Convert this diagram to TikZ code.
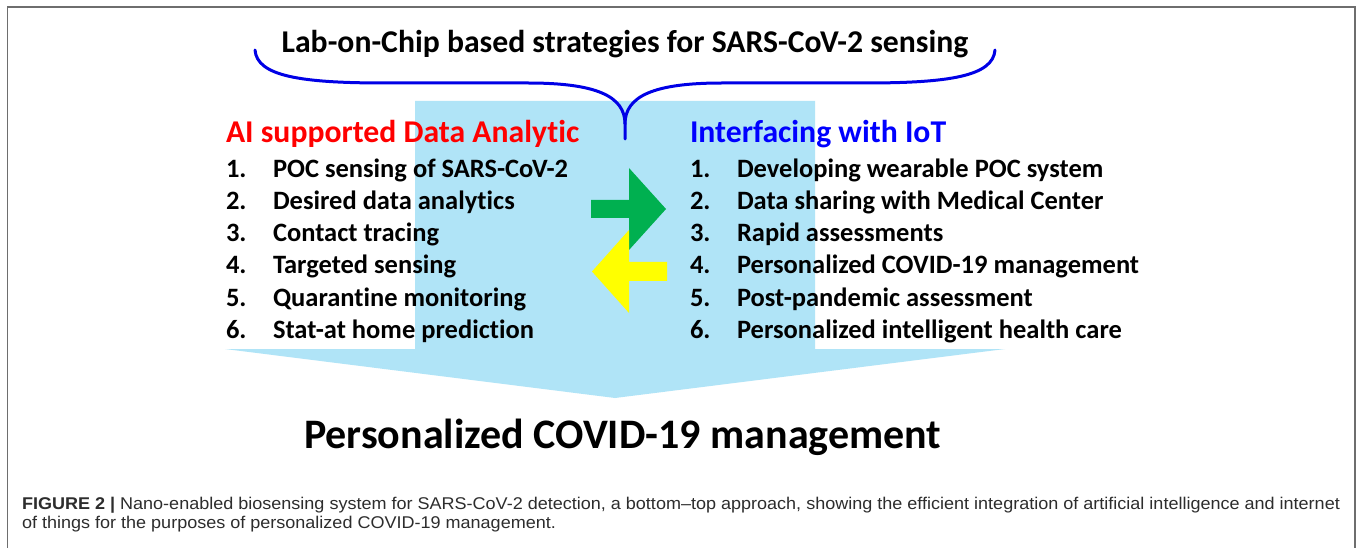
\documentclass[tikz,border=0pt]{standalone}
\usepackage{fontspec}
\setmainfont{Carlito}[Ligatures=NoCommon]
\newfontfamily\capfont{Liberation Sans}
\usepackage{graphicx}
\definecolor{lightbluefill}{RGB}{176,228,247}
\definecolor{arrowgreen}{RGB}{0,176,80}
\definecolor{arrowyellow}{RGB}{255,255,0}
\definecolor{hdred}{RGB}{255,0,0}
\definecolor{hdblue}{RGB}{0,0,255}
\definecolor{bracecol}{RGB}{0,0,230}
\definecolor{framegray}{RGB}{110,110,110}
\definecolor{captext}{RGB}{45,45,45}
\newlength\capwidth
\newcommand\capone{\capfont\fontsize{17}{20}\selectfont\textbf{FIGURE 2 |} Nano-enabled biosensing system for SARS-CoV-2 detection, a bottom–top approach, showing the efficient integration of artificial intelligence and internet}
\newcommand\captwo{\capfont\fontsize{17}{20}\selectfont of things for the purposes of personalized COVID-19 management.}
\tikzset{
  txt/.style={inner sep=0pt, outer sep=0pt, anchor=base west},
  itemnum/.style={txt, font=\fontsize{26.5}{26.5}\selectfont\bfseries},
  itemtxt/.style={txt, font=\fontsize{26.5}{26.5}\selectfont\bfseries},
  header/.style={txt, font=\fontsize{31.7}{31.7}\selectfont\bfseries},
  captxt/.style={txt, text=captext},
}
\begin{document}
\settowidth\capwidth{\capone}%
\pgfmathsetmacro\capsx{1318/\capwidth}%
\begin{tikzpicture}[x=1pt,y=-1pt]
\useasboundingbox (0,0) rectangle (1358,548);
\fill[white] (0,0) rectangle (1358,548);
% frame
\draw[framegray, line width=1.6pt] (7.5,548) -- (7.5,6.8) -- (1355.2,6.8) -- (1355.2,548);
% big light blue arrow
\fill[lightbluefill] (415,101) -- (815,101) -- (815,349) -- (1005,349) -- (615,398) -- (225,349) -- (415,349) -- cycle;
% exchange arrows
\fill[arrowgreen] (591,200) -- (629,200) -- (629,168) -- (666,209) -- (629,250) -- (629,218) -- (591,218) -- cycle;
\fill[arrowyellow] (667,262) -- (629,262) -- (629,230) -- (592,271.5) -- (629,313) -- (629,281) -- (667,281) -- cycle;
% title
\node[inner sep=0pt, anchor=base, font=\fontsize{31.7}{31.7}\selectfont\bfseries] (title) at (625,53) {Lab-on-Chip based strategies for SARS-CoV-2 sensing};
% brace
\draw[bracecol, line width=3pt, line cap=round, line join=round]
  (255,50) .. controls (257,76) and (300,83) .. (385,83) -- (528,83)
  .. controls (596,83) and (625,96) .. (625,124) -- (625,139);
\draw[bracecol, line width=3pt, line cap=round, line join=round]
  (995,50) .. controls (993,76) and (950,83) .. (865,83) -- (722,83)
  .. controls (654,83) and (625,96) .. (625,124);
% headers
\node[header, text=hdred] (hleft) at (226,143) {AI supported Data Analytic};
\node[header, text=hdblue] (hright) at (690,143) {Interfacing with IoT};
% left list
\node[itemnum] (ln1) at (226,178) {1.};
\node[itemtxt] (lt1) at (273,178) {POC sensing of SARS-CoV-2};
\node[itemnum] (ln2) at (226,210) {2.};
\node[itemtxt] (lt2) at (273,210) {Desired data analytics};
\node[itemnum] (ln3) at (226,242) {3.};
\node[itemtxt] (lt3) at (273,242) {Contact tracing};
\node[itemnum] (ln4) at (226,274) {4.};
\node[itemtxt] (lt4) at (273,274) {Targeted sensing};
\node[itemnum] (ln5) at (226,306) {5.};
\node[itemtxt] (lt5) at (273,306) {Quarantine monitoring};
\node[itemnum] (ln6) at (226,338) {6.};
\node[itemtxt] (lt6) at (273,338) {Stat-at home prediction};
% right list
\node[itemnum] (rn1) at (690,178) {1.};
\node[itemtxt] (rt1) at (737,178) {Developing wearable POC system};
\node[itemnum] (rn2) at (690,210) {2.};
\node[itemtxt] (rt2) at (737,210) {Data sharing with Medical Center};
\node[itemnum] (rn3) at (690,242) {3.};
\node[itemtxt] (rt3) at (737,242) {Rapid assessments};
\node[itemnum] (rn4) at (690,274) {4.};
\node[itemtxt] (rt4) at (737,274) {Personalized COVID-19 management};
\node[itemnum] (rn5) at (690,306) {5.};
\node[itemtxt] (rt5) at (737,306) {Post-pandemic assessment};
\node[itemnum] (rn6) at (690,338) {6.};
\node[itemtxt] (rt6) at (737,338) {Personalized intelligent health care};
% bottom
\node[txt, font=\fontsize{42}{42}\selectfont\bfseries] (bottom) at (304,448) {Personalized COVID-19 management};
% caption
\node[captxt] (cap1) at (22,509) {\scalebox{\capsx}[1]{\capone}};
\node[captxt] (cap2) at (22,528) {\scalebox{\capsx}[1]{\captwo}};
\end{tikzpicture}
\end{document}
